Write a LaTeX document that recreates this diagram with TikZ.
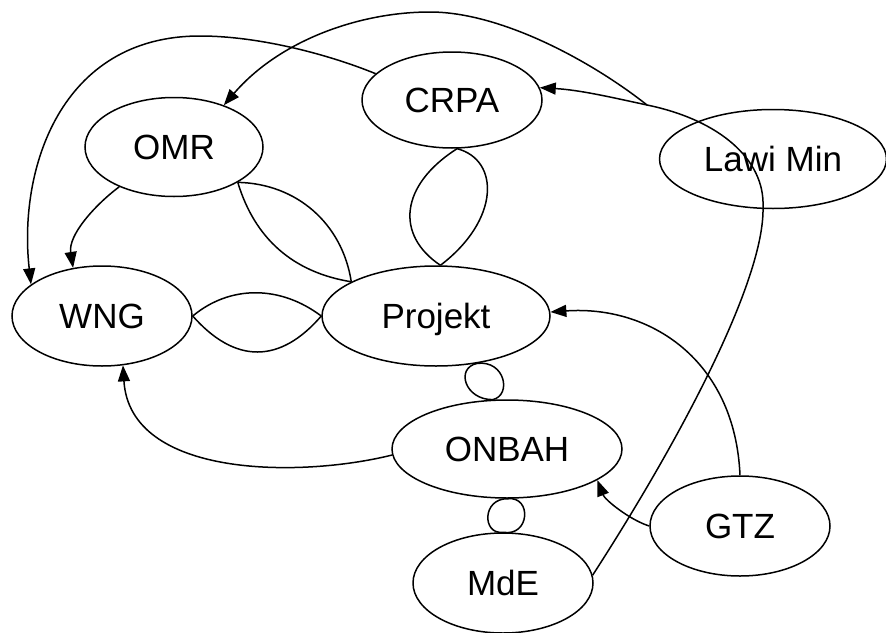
\documentclass[tikz,border=0pt]{standalone}
\usepackage{fontspec}
\setmainfont{Liberation Sans}
\usetikzlibrary{arrows.meta,shapes.geometric}
\tikzset{
  ent/.style={draw, ellipse, line width=1.5pt, inner sep=0pt, text depth=0pt,
    font=\fontsize{35}{40}\selectfont},
  lnk/.style={line width=1.5pt},
  arr/.style={lnk, -{Triangle[length=16pt,width=12pt]}}
}
\begin{document}
\begin{tikzpicture}[x=1pt,y=-1pt]
\fill[white] (0,0) rectangle (886,632);
\useasboundingbox (0,0) rectangle (886,632);
% nodes
\node[ent, minimum width=180pt, minimum height=96pt] (CRPA) at (452,100) {CRPA};
\node[ent, minimum width=178pt, minimum height=99pt] (OMR) at (174,147) {OMR};
\node[ent, minimum width=227pt, minimum height=99pt] (Lawi) at (773,159) {Lawi Min};
\node[ent, minimum width=180pt, minimum height=100pt] (WNG) at (102,316) {WNG};
\node[ent, minimum width=228pt, minimum height=100pt] (Projekt) at (436,316) {Projekt};
\node[ent, minimum width=230pt, minimum height=98pt] (ONBAH) at (507,449) {ONBAH};
\node[ent, minimum width=180pt, minimum height=100pt] (GTZ) at (740,526) {GTZ};
\node[ent, minimum width=180pt, minimum height=100pt] (MdE) at (503,583) {MdE};
\coordinate (j) at (647,105);
% CRPA -> WNG (outer arc)
\draw[arr] (CRPA.161) .. controls (330,55) and (260,36) .. (200,36)
  .. controls (60,36) and (18,170) .. (WNG.156);
% arc to OMR
\draw[arr] (j) .. controls (590,60) and (500,12) .. (430,12)
  .. controls (360,12) and (280,40) .. (OMR.40);
% MdE through Lawi Min to CRPA
\draw[arr] (MdE.5) .. controls (680,440) and (765,280) .. (763,207)
  .. controls (765,160) and (720,120) .. (j)
  .. controls (610,97) and (580,90) .. (CRPA.8);
% OMR -> WNG
\draw[arr] (OMR.216) .. controls (95,205) and (68,235) .. (WNG.121);
% OMR -- Projekt lens
\draw[lnk] (OMR.331) to[bend left=40] (Projekt.158);
\draw[lnk] (OMR.331) to[bend right=32] (Projekt.158);
% CRPA -- Projekt lens
\draw[lnk] (CRPA.-84) .. controls (400,185) and (395,235) .. (Projekt.85);
\draw[lnk] (CRPA.-84) .. controls (500,160) and (500,220) .. (Projekt.85);
% WNG -- Projekt lens
\draw[lnk] (WNG.east) .. controls (230,285) and (280,285) .. (Projekt.west);
\draw[lnk] (WNG.east) .. controls (235,364) and (280,364) .. (Projekt.west);
% Projekt -- ONBAH loop
\draw[lnk] (Projekt.-49) .. controls (505,360) and (512,395) .. (ONBAH.106);
\draw[lnk] (Projekt.-49) .. controls (455,368) and (465,400) .. (ONBAH.106);
% ONBAH -- MdE loop
\draw[lnk] (ONBAH.-89) .. controls (532,496) and (530,537) .. (MdE.north);
\draw[lnk] (ONBAH.-89) .. controls (482,498) and (482,535) .. (MdE.north);
% ONBAH -> WNG
\draw[arr] (ONBAH.183) .. controls (300,478) and (130,478) .. (WNG.-67);
% GTZ -> Projekt
\draw[arr] (GTZ.north) .. controls (735,360) and (650,305) .. (Projekt.2);
% GTZ -> ONBAH
\draw[arr] (GTZ.180) .. controls (630,520) and (605,500) .. (ONBAH.-19);
\end{tikzpicture}
\end{document}
